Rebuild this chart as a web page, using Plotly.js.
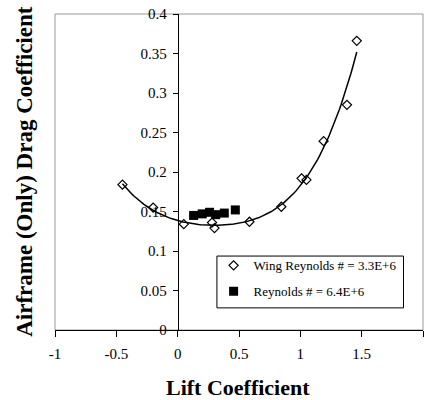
<!DOCTYPE html>
<html>
<head>
<meta charset="utf-8">
<script src="https://cdn.plot.ly/plotly-3.0.1.min.js"></script>
<style>
  html, body { margin: 0; padding: 0; background: #fff; }
  #chart { width: 425px; height: 400px; }
</style>
</head>
<body>
<div id="chart"></div>
<script>
// Wing Reynolds # = 3.3E+6 (open diamonds)
const wingLift = [-0.45, -0.20, 0.05, 0.28, 0.30, 0.585, 0.845, 1.01, 1.05, 1.19, 1.38, 1.46];
const wingDrag = [0.184, 0.155, 0.134, 0.136, 0.129, 0.137, 0.156, 0.192, 0.190, 0.239, 0.285, 0.366];

// Reynolds # = 6.4E+6 (filled squares)
const hiLift = [0.13, 0.20, 0.26, 0.31, 0.38, 0.47];
const hiDrag = [0.145, 0.147, 0.149, 0.146, 0.148, 0.152];

const xTicks = [-1, -0.5, 0, 0.5, 1, 1.5, 2];
const yTicks = [0, 0.05, 0.1, 0.15, 0.2, 0.25, 0.3, 0.35, 0.4];

// Least-squares polynomial trend line through the wing data (normal equations)
function polyFit(xs, ys, order) {
  const n = order + 1;
  const A = [];
  for (let i = 0; i < n; i++) {
    const row = [];
    for (let j = 0; j <= n; j++) row.push(0);
    A.push(row);
  }
  for (let k = 0; k < xs.length; k++) {
    for (let i = 0; i < n; i++) {
      for (let j = 0; j < n; j++) A[i][j] += Math.pow(xs[k], i + j);
      A[i][n] += ys[k] * Math.pow(xs[k], i);
    }
  }
  for (let c = 0; c < n; c++) {
    for (let r = 0; r < n; r++) {
      if (r === c) continue;
      const f = A[r][c] / A[c][c];
      for (let j = 0; j <= n; j++) A[r][j] -= f * A[c][j];
    }
  }
  const out = [];
  for (let i = 0; i < n; i++) out.push(A[i][n] / A[i][i]);
  return out;
}
const coef = polyFit(wingLift, wingDrag, 4);
const xMin = Math.min.apply(null, wingLift);
const xMax = Math.max.apply(null, wingLift);
const trendX = [];
const trendY = [];
for (let i = 0; i <= 120; i++) {
  const x = xMin + (xMax - xMin) * i / 120;
  let y = 0;
  for (let p = 0; p < coef.length; p++) y += coef[p] * Math.pow(x, p);
  trendX.push(x);
  trendY.push(y);
}

const serif = 'Liberation Serif';

const traces = [
  {
    type: 'scatter', x: trendX, y: trendY, mode: 'lines', showlegend: false,
    line: {color: '#000', width: 1.5}, hoverinfo: 'skip'
  },
  {
    type: 'scatter', x: wingLift, y: wingDrag, mode: 'markers', name: 'Wing Reynolds # = 3.3E+6',
    legendgroup: 'a',
    marker: {symbol: 'diamond-open', size: 7, color: '#000', line: {width: 1.2, color: '#000'}}
  },
  {
    type: 'scatter', x: hiLift, y: hiDrag, mode: 'markers', name: 'Reynolds # = 6.4E+6',
    legendgroup: 'b',
    marker: {symbol: 'square', size: 9, color: '#000'}
  }
];

const layout = {
  width: 425, height: 400,
  margin: {l: 55, r: 2, t: 14, b: 70},
  paper_bgcolor: '#fff', plot_bgcolor: '#fff',
  font: {family: serif, size: 15, color: '#000'},
  showlegend: true,
  legend: {
    x: 0.431, y: 0.252, xanchor: 'left', yanchor: 'top',
    bgcolor: 'rgba(0,0,0,0)', borderwidth: 0,
    font: {family: serif, size: 13, color: '#000'},
    tracegroupgap: 6
  },
  xaxis: {
    range: [-1, 2], tickvals: xTicks, ticktext: xTicks.map(String),
    showgrid: false, zeroline: false, showline: true, linecolor: '#000', linewidth: 1,
    ticks: 'outside', ticklen: 6, tickcolor: '#000', tickfont: {family: serif, size: 15},
    ticklabelstandoff: 4
  },
  yaxis: {
    range: [0, 0.4], tickvals: yTicks, ticktext: yTicks.map(String),
    anchor: 'free', position: 1 / 3,
    showgrid: false, zeroline: false, showline: true, linecolor: '#000', linewidth: 1,
    ticks: 'outside', ticklen: 5, tickcolor: '#000', tickfont: {family: serif, size: 15},
    ticklabelstandoff: 3
  },
  shapes: [
    {type: 'rect', xref: 'paper', yref: 'paper', x0: 0, x1: 1, y0: 0, y1: 1,
     line: {color: '#999', width: 1}, layer: 'below'},
    {type: 'rect', xref: 'paper', yref: 'paper', x0: 0.44, x1: 0.947, y0: 0.07, y1: 0.234,
     line: {color: '#000', width: 1}, fillcolor: '#fff', layer: 'below'}
  ],
  annotations: [
    {text: '<b>Lift Coefficient</b>', xref: 'paper', yref: 'paper', x: 0.497, y: -0.135,
     xanchor: 'center', yanchor: 'top', showarrow: false, font: {family: serif, size: 22}},
    {text: '<b>Airframe (Only) Drag Coefficient</b>', xref: 'paper', yref: 'paper',
     x: -0.085, y: 0.503, textangle: -90, xanchor: 'center', yanchor: 'middle',
     showarrow: false, font: {family: serif, size: 23}}
  ]
};

Plotly.newPlot('chart', traces, layout, {displayModeBar: false, staticPlot: true});
</script>
</body>
</html>
